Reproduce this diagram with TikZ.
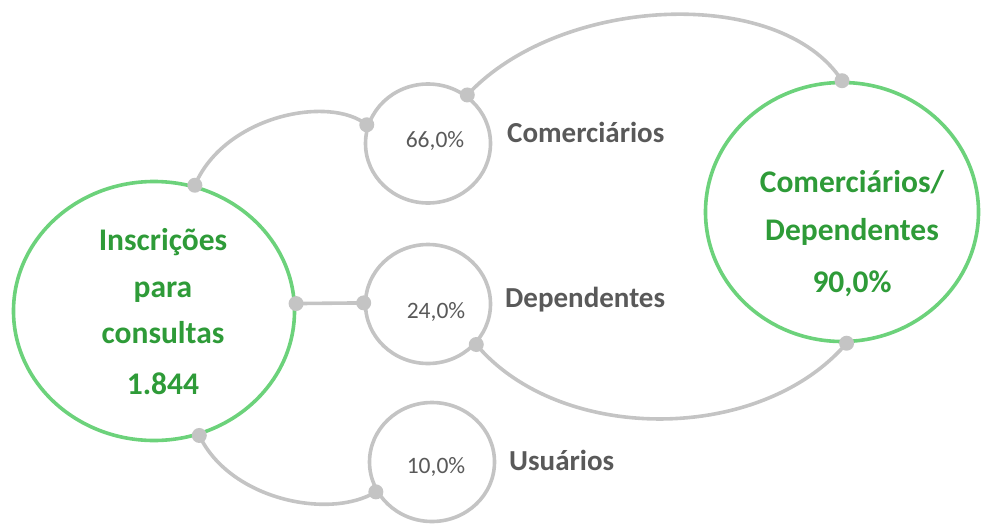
\documentclass[tikz,border=0pt]{standalone}
\usepackage{fontspec}
\setmainfont{Carlito}
\usetikzlibrary{shapes.geometric}
\definecolor{ringgreen}{HTML}{6CD27B}
\definecolor{txtgreen}{HTML}{2E9B38}
\definecolor{linegray}{HTML}{C4C4C4}
\definecolor{txtgray}{HTML}{595959}
\begin{document}
\begin{tikzpicture}[x=1pt,y=-1pt,
  ring/.style={ellipse, draw=ringgreen, line width=3.6pt, inner sep=0pt},
  smallring/.style={ellipse, draw=linegray, line width=3.6pt, inner sep=0pt, minimum width=125pt, minimum height=119pt},
  conn/.style={draw=linegray, line width=3.6pt},
  pct/.style={text=txtgray, font=\fontsize{23.5}{28}\selectfont, anchor=base},
  lbl/.style={text=txtgray, font=\bfseries\fontsize{29}{34}\selectfont, anchor=base west, inner sep=0pt},
  bigtxt/.style={text=txtgreen, font=\bfseries\fontsize{31.5}{36}\selectfont, anchor=base, inner sep=0pt},
  dotc/.style={fill=linegray, circle, inner sep=0pt, minimum size=15pt}
]
\useasboundingbox (0,0) rectangle (982,525);
% circles
\node[ring, minimum width=281pt, minimum height=259pt] (L) at (154,311) {};
\node[ring, minimum width=273pt, minimum height=259pt] (R) at (842,212) {};
\node[smallring] (C66) at (428,143.5) {};
\node[smallring] (C24) at (428,304) {};
\node[smallring] (C10) at (432,462) {};
% connectors
\draw[conn] (L.72) .. controls (225,115) and (330,95) .. (C66.163);
\draw[conn] (C66.51) .. controls (560,-5) and (780,-15) .. (R.90);
\draw[conn] (L.3.6) -- (C24.179);
\draw[conn] (C24.-40) .. controls (560,444) and (760,444) .. (R.-88);
\draw[conn] (L.-70) .. controls (230,500) and (330,520) .. (C10.-152);
% dots
\node[dotc] (d1) at (L.72) {};
\node[dotc] (d2) at (C66.163) {};
\node[dotc] (d3) at (C66.51) {};
\node[dotc] (d4) at (R.90) {};
\node[dotc] (d5) at (L.3.6) {};
\node[dotc] (d6) at (C24.179) {};
\node[dotc] (d7) at (C24.-40) {};
\node[dotc] (d8) at (R.-88) {};
\node[dotc] (d9) at (L.-70) {};
\node[dotc] (d10) at (C10.-152) {};
% percentages
\node[pct] (p1) at (435,147) {66,0\%};
\node[pct] (p2) at (436,318) {24,0\%};
\node[pct] (p3) at (436,473) {10,0\%};
% labels
\node[lbl] (l1) at (507,142) {Comerciários};
\node[lbl] (l2) at (505,307) {Dependentes};
\node[lbl] (l3) at (509,470) {Usuários};
% green texts
\node[bigtxt] (g1) at (163,250) {Inscrições};
\node[bigtxt] (g2) at (163,297) {para};
\node[bigtxt] (g3) at (163,343) {consultas};
\node[bigtxt] (g4) at (163,394) {1.844};
\node[bigtxt] (h1) at (852,192) {Comerciários/};
\node[bigtxt] (h2) at (852,240) {Dependentes};
\node[bigtxt] (h3) at (852,292) {90,0\%};
\end{tikzpicture}
\end{document}
